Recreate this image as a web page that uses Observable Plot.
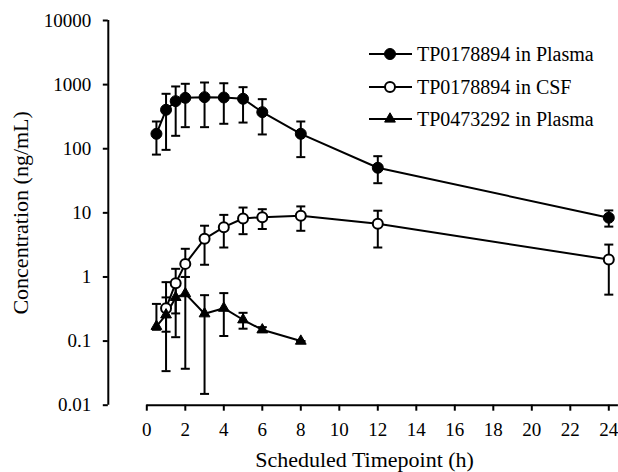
<!DOCTYPE html>
<html>
<head>
<meta charset="utf-8">
<script src="https://cdn.jsdelivr.net/npm/d3@7"></script>
<script src="https://cdn.jsdelivr.net/npm/@observablehq/plot@0.6"></script>
<style>
  body { margin: 0; background: #fff; }
  #chart { position: relative; width: 618px; height: 472px; }
  #chart svg text { font-family: 'Liberation Serif', 'Times New Roman', serif; }
</style>
</head>
<body>
<div id="chart"></div>
<script>
// ---- data ----
const seriesNames = ["TP0178894 in Plasma", "TP0178894 in CSF", "TP0473292 in Plasma"];

const plasmaTime = [0.5, 1, 1.5, 2, 3, 4, 5, 6, 8, 12, 24];
const plasmaMean = [171, 405, 552, 622, 637, 630, 601, 372, 171, 50.5, 8.4];
const plasmaLow  = [81, 96, 159, 217, 217, 245, 256, 167, 74, 29, 6.1];
const plasmaHigh = [266, 719, 936, 1030, 1079, 1050, 912, 593, 266, 76.5, 10.9];

const csfTime = [1, 1.5, 2, 3, 4, 5, 6, 8, 12, 24];
const csfMean = [0.326, 0.80, 1.6, 3.94, 5.98, 8.17, 8.57, 9.0, 6.75, 1.87];
const csfLow  = [0.14, 0.27, 1.0, 1.55, 2.88, 4.65, 5.6, 5.25, 2.88, 0.53];
const csfHigh = [0.83, 1.34, 2.75, 6.3, 9.3, 12.1, 11.4, 12.6, 10.8, 3.2];

const metTime = [0.5, 1, 1.5, 2, 3, 4, 5, 6, 8];
const metMean = [0.17, 0.257, 0.48, 0.55, 0.267, 0.326, 0.215, 0.15, 0.1];
const metLow  = [0.15, 0.034, 0.115, 0.037, 0.015, 0.12, 0.156, 0.14, 0.1];
const metHigh = [0.38, 0.48, 0.8, 1.0, 0.52, 0.56, 0.276, 0.165, 0.1];

const xTicks = [0, 2, 4, 6, 8, 10, 12, 14, 16, 18, 20, 22, 24];
const yTicks = [0.01, 0.1, 1, 10, 100, 1000, 10000];
const yTickLabels = ["0.01", "0.1", "1", "10", "100", "1000", "10000"];
const xTitle = "Scheduled Timepoint (h)";
const yTitle = "Concentration (ng/mL)";

// ---- tables ----
const toRows = (t, m, lo, hi) => t.map((d, i) => ({t: d, v: m[i], lo: lo[i], hi: hi[i]}));
const plasma = toRows(plasmaTime, plasmaMean, plasmaLow, plasmaHigh);
const csf = toRows(csfTime, csfMean, csfLow, csfHigh);
const met = toRows(metTime, metMean, metLow, metHigh);

const hline = {
  draw(context, size) {
    const r = Math.sqrt(size / Math.PI);
    context.moveTo(-r, 0);
    context.lineTo(r, 0);
  }
};

const font = "'Liberation Serif', 'Times New Roman', serif";

function errorMarks(rows) {
  return [
    Plot.ruleX(rows, {x: "t", y1: "lo", y2: "hi", stroke: "black", strokeWidth: 2}),
    Plot.dot(rows, {x: "t", y: "lo", symbol: hline, r: 4.5, stroke: "black", strokeWidth: 2}),
    Plot.dot(rows, {x: "t", y: "hi", symbol: hline, r: 4.5, stroke: "black", strokeWidth: 2})
  ];
}

const chart = Plot.plot({
  width: 618,
  height: 472,
  marginLeft: 107.8,
  marginRight: 9.7,
  marginTop: 20,
  marginBottom: 67.3,
  style: {fontFamily: font, fontSize: "19px", color: "black", background: "white"},
  x: {domain: [-2, 24]},
  y: {type: "log", domain: [0.01, 10000]},
  marks: [
    Plot.ruleX([-2], {y1: 0.01, y2: 10000, stroke: "black", strokeWidth: 2}),
    Plot.ruleY([0.01], {x1: 0, x2: 24.5, stroke: "black", strokeWidth: 2}),
    Plot.axisY({ticks: yTicks, tickFormat: d => yTickLabels[yTicks.indexOf(d)], tickSize: 5, tickPadding: 12, strokeWidth: 2, label: null, fill: "black"}),
    Plot.axisX({ticks: xTicks, tickFormat: d => String(d), tickSize: 6, tickPadding: 11, strokeWidth: 2, label: null, fill: "black"}),
    Plot.text([yTitle], {frameAnchor: "left", dx: -87, rotate: -90, fontSize: 22, fill: "black", textAnchor: "middle"}),
    Plot.text([xTitle], {frameAnchor: "bottom", dx: 6, dy: 55, fontSize: 22, fill: "black", lineAnchor: "middle"}),
    Plot.line(plasma, {x: "t", y: "v", stroke: "black", strokeWidth: 2}),
    Plot.line(csf, {x: "t", y: "v", stroke: "black", strokeWidth: 2}),
    Plot.line(met, {x: "t", y: "v", stroke: "black", strokeWidth: 2}),
    ...errorMarks(plasma),
    ...errorMarks(csf),
    ...errorMarks(met),
    Plot.dot(plasma, {x: "t", y: "v", r: 5.5, fill: "black", stroke: "black", strokeWidth: 1}),
    Plot.dot(csf, {x: "t", y: "v", r: 5, fill: "white", stroke: "black", strokeWidth: 2}),
    Plot.dot(met, {x: "t", y: "v", symbol: "triangle", r: 4, fill: "black", stroke: "black", strokeWidth: 1})
  ]
});

document.getElementById("chart").appendChild(chart);

// ---- legend ----
const svg = d3.select(chart);
const legend = svg.append("g").attr("font-size", 20).attr("text-anchor", "start");
const rowsY = [54, 87, 119];
const symbols = [
  {type: d3.symbolCircle, size: Math.PI * 5.5 * 5.5, fill: "black", sw: 1},
  {type: d3.symbolCircle, size: Math.PI * 5 * 5, fill: "white", sw: 2},
  {type: d3.symbolTriangle, size: Math.PI * 16, fill: "black", sw: 1}
];
seriesNames.forEach((name, i) => {
  const g = legend.append("g").attr("transform", `translate(0,${rowsY[i]})`);
  g.append("line").attr("x1", 369).attr("x2", 412).attr("y1", 0).attr("y2", 0)
    .attr("stroke", "black").attr("stroke-width", 2);
  g.append("path").attr("d", d3.symbol(symbols[i].type, symbols[i].size)())
    .attr("transform", "translate(390,0)")
    .attr("fill", symbols[i].fill).attr("stroke", "black").attr("stroke-width", symbols[i].sw);
  g.append("text").attr("x", 417).attr("y", 0).attr("dy", "0.33em").attr("fill", "black")
    .attr("text-anchor", "start")
    .style("font-family", font).style("font-size", "20px")
    .text(name);
});
</script>
</body>
</html>
